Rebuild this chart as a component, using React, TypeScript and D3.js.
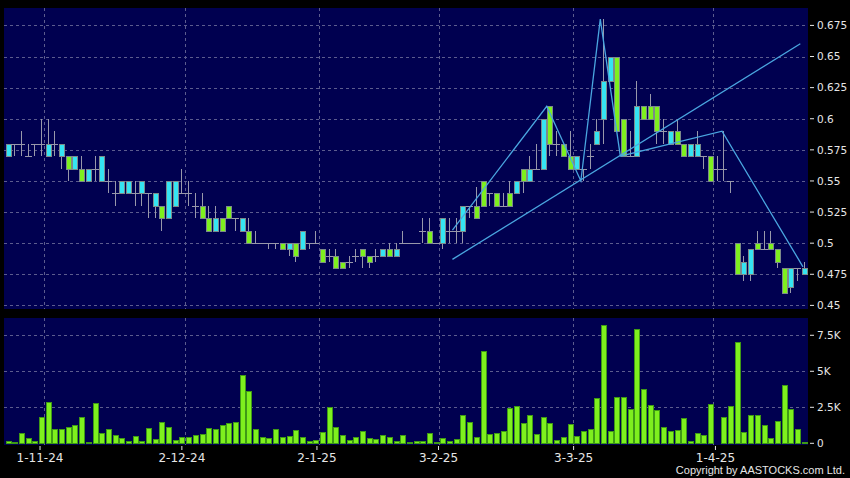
import * as React from "react";
import * as d3 from "d3";

// daily candles, 120 sessions (late Oct 2024 .. mid Apr 2025)
const opens = [
  0.57, 0.58, 0.58, 0.57, 0.58, 0.58, 0.57, 0.58, 0.57, 0.57, 0.56, 0.56, 0.55, 0.56, 0.55, 0.55, 0.54, 0.54, 0.54, 0.54,
  0.54, 0.54, 0.53, 0.53, 0.52, 0.53, 0.54, 0.54, 0.53, 0.53, 0.52, 0.51, 0.52, 0.53, 0.52, 0.51, 0.51, 0.5, 0.5, 0.5,
  0.5, 0.5, 0.495, 0.5, 0.495, 0.5, 0.5, 0.495, 0.49, 0.49, 0.485, 0.485, 0.49, 0.495, 0.49, 0.49, 0.49, 0.495, 0.49, 0.5,
  0.5, 0.5, 0.51, 0.51, 0.5, 0.5, 0.51, 0.51, 0.51, 0.53, 0.53, 0.55, 0.54, 0.54, 0.53, 0.54, 0.54, 0.56, 0.55, 0.56,
  0.56, 0.61, 0.58, 0.58, 0.57, 0.56, 0.56, 0.57, 0.58, 0.6, 0.63, 0.65, 0.6, 0.57, 0.57, 0.61, 0.61, 0.61, 0.59, 0.58,
  0.59, 0.58, 0.57, 0.57, 0.57, 0.57, 0.56, 0.56, 0.55, 0.5, 0.475, 0.475, 0.5, 0.495, 0.5, 0.495, 0.48, 0.465, 0.48, 0.475,
];
const closes = [
  0.58, 0.58, 0.58, 0.57, 0.58, 0.58, 0.58, 0.58, 0.58, 0.56, 0.57, 0.55, 0.56, 0.56, 0.57, 0.55, 0.54, 0.55, 0.55, 0.54,
  0.55, 0.54, 0.54, 0.52, 0.55, 0.55, 0.54, 0.54, 0.53, 0.52, 0.51, 0.52, 0.51, 0.52, 0.52, 0.52, 0.5, 0.5, 0.5, 0.5,
  0.5, 0.495, 0.5, 0.49, 0.51, 0.5, 0.5, 0.485, 0.49, 0.48, 0.48, 0.485, 0.49, 0.49, 0.485, 0.49, 0.495, 0.49, 0.495, 0.5,
  0.5, 0.5, 0.51, 0.5, 0.5, 0.52, 0.51, 0.51, 0.53, 0.53, 0.52, 0.53, 0.54, 0.53, 0.53, 0.53, 0.55, 0.55, 0.56, 0.56,
  0.6, 0.58, 0.58, 0.57, 0.56, 0.57, 0.56, 0.57, 0.59, 0.63, 0.65, 0.59, 0.57, 0.57, 0.61, 0.6, 0.6, 0.59, 0.59, 0.59,
  0.58, 0.57, 0.58, 0.58, 0.57, 0.55, 0.56, 0.56, 0.55, 0.475, 0.485, 0.495, 0.495, 0.495, 0.495, 0.485, 0.46, 0.48, 0.48, 0.48,
];
const highs = [
  0.58, 0.58, 0.59, 0.58, 0.58, 0.6, 0.6, 0.59, 0.58, 0.57, 0.57, 0.57, 0.56, 0.57, 0.57, 0.56, 0.55, 0.55, 0.55, 0.55,
  0.55, 0.54, 0.54, 0.53, 0.55, 0.55, 0.56, 0.55, 0.54, 0.54, 0.53, 0.53, 0.52, 0.53, 0.52, 0.52, 0.52, 0.51, 0.5, 0.5,
  0.5, 0.5, 0.5, 0.5, 0.51, 0.5, 0.51, 0.495, 0.495, 0.495, 0.485, 0.49, 0.495, 0.495, 0.49, 0.495, 0.495, 0.5, 0.5, 0.51,
  0.5, 0.5, 0.52, 0.52, 0.5, 0.52, 0.52, 0.52, 0.53, 0.53, 0.545, 0.55, 0.54, 0.54, 0.54, 0.55, 0.55, 0.56, 0.57, 0.58,
  0.6, 0.61, 0.59, 0.58, 0.59, 0.57, 0.56, 0.58, 0.6, 0.68, 0.65, 0.65, 0.6, 0.59, 0.63, 0.61, 0.62, 0.61, 0.6, 0.59,
  0.6, 0.58, 0.58, 0.59, 0.57, 0.57, 0.57, 0.59, 0.55, 0.5, 0.49, 0.495, 0.51, 0.51, 0.51, 0.495, 0.48, 0.48, 0.48, 0.485,
];
const lows = [
  0.57, 0.57, 0.57, 0.57, 0.57, 0.57, 0.57, 0.57, 0.56, 0.55, 0.56, 0.55, 0.55, 0.55, 0.55, 0.54, 0.53, 0.54, 0.54, 0.53,
  0.53, 0.52, 0.52, 0.51, 0.52, 0.53, 0.54, 0.53, 0.52, 0.52, 0.51, 0.51, 0.51, 0.52, 0.51, 0.51, 0.5, 0.5, 0.5, 0.495,
  0.495, 0.495, 0.49, 0.485, 0.495, 0.495, 0.5, 0.485, 0.485, 0.48, 0.48, 0.48, 0.485, 0.48, 0.48, 0.485, 0.49, 0.49, 0.49, 0.5,
  0.5, 0.5, 0.5, 0.5, 0.5, 0.495, 0.5, 0.5, 0.5, 0.52, 0.52, 0.53, 0.53, 0.53, 0.53, 0.53, 0.54, 0.54, 0.55, 0.56,
  0.56, 0.57, 0.57, 0.57, 0.56, 0.56, 0.55, 0.56, 0.58, 0.58, 0.63, 0.59, 0.57, 0.57, 0.57, 0.6, 0.6, 0.58, 0.58, 0.58,
  0.58, 0.57, 0.57, 0.57, 0.56, 0.55, 0.55, 0.55, 0.54, 0.475, 0.47, 0.47, 0.495, 0.495, 0.495, 0.48, 0.46, 0.46, 0.47, 0.475,
];
const volumes = [
  160, 90, 700, 350, 160, 1850, 2850, 970, 1000, 1110, 1250, 1850, 70, 2780, 720, 970, 580, 370, 185, 530,
  160, 1040, 300, 1480, 1110, 210, 420, 440, 600, 650, 1060, 1020, 1270, 1390, 1500, 4750, 3660, 1020, 440, 370,
  970, 420, 530, 930, 460, 160, 230, 790, 2500, 1110, 560, 230, 420, 830, 350, 320, 560, 420, 140, 580,
  70, 140, 190, 700, 70, 350, 160, 280, 1950, 1460, 440, 6440, 630, 700, 880, 2480, 2570, 1390, 1970, 630,
  1850, 1390, 250, 440, 1340, 530, 880, 1000, 3125, 8200, 880, 3200, 3220, 2410, 7920, 3800, 2690, 2310, 1110, 830,
  930, 1740, 140, 720, 600, 2710, 50, 1850, 2620, 7060, 790, 1970, 1990, 1270, 370, 1550, 4070, 2360, 970, 90,
];

const dateLabels = ["1-11-24", "2-12-24", "2-1-25", "3-2-25", "3-3-25", "1-4-25"];
const dateIndex = [6, 27, 47, 65, 85, 106];

const priceTicks = [0.45, 0.475, 0.5, 0.525, 0.55, 0.575, 0.6, 0.625, 0.65, 0.675];
const volTicks = [0, 2500, 5000, 7500];
const volTickLabels = ["0", "2.5K", "5K", "7.5K"];

// drawn trend lines (index, price)
const zigIndex = [66.5, 80.6, 85.7, 88.6, 91.6, 106.8, 118.9];
const zigPrice = [0.5105, 0.61, 0.55, 0.68, 0.57, 0.59, 0.481];
const trendIndex = [66.5, 118.5];
const trendPrice = [0.487, 0.6603];

const N = opens.length;
const W = 850,
  H = 478;
const left = 4,
  right = 808;

const UP = "#35e4f2";
const DOWN = "#7ef01e";
const NAVY = "#000050";
const GRID = "#5c5c8e";
const LINE = "#4aa6e0";
const TXT = "#e6e6e6";
const FONT = "DejaVu Sans, Verdana, sans-serif";

export default function App() {
  const x = d3.scaleBand<number>().domain(d3.range(N)).range([4.2, 807]);
  const xc = d3.scaleLinear().domain([0, N]).range([4.2, 807]);
  const cx = (i: number) => xc(i + 0.5);
  const xLabel = d3.scaleLinear().domain([0, N]).range([-0.5, 810]);

  const y = d3.scaleLinear().domain([0.4471, 0.689]).range([309, 8]);
  const yv = d3.scaleLinear().domain([0, 8680]).range([443.3, 318.3]);

  const line = d3
    .line<[number, number]>()
    .x(d => cx(d[0]))
    .y(d => y(d[1]));

  const zig: [number, number][] = zigIndex.map((d, i) => [d, zigPrice[i]]);
  const trend: [number, number][] = trendIndex.map((d, i) => [d, trendPrice[i]]);

  const fmt = (v: number) => String(+v.toFixed(3));

  return (
    <svg
      width={W}
      height={H}
      style={{ position: "absolute", left: 0, top: 0, background: "#000" }}
      fontFamily={FONT}
    >
      <rect x={0} y={0} width={W} height={H} fill="#000" />
      {/* price panel */}
      <rect x={left} y={8} width={right - left} height={301} fill={NAVY} />
      {/* volume panel */}
      <rect x={left} y={318} width={right - left} height={127} fill={NAVY} />

      {/* grid */}
      <g stroke={GRID} strokeDasharray="3,3" strokeWidth={1} shapeRendering="crispEdges">
        {priceTicks.map(t => (
          <line key={"pg" + t} x1={left} x2={right} y1={Math.round(y(t)) + 0.5} y2={Math.round(y(t)) + 0.5} />
        ))}
        {volTicks.slice(1).map(t => (
          <line key={"vg" + t} x1={left} x2={right} y1={Math.round(yv(t)) + 0.5} y2={Math.round(yv(t)) + 0.5} />
        ))}
        {dateIndex.map(d => (
          <g key={"dg" + d}>
            <line x1={Math.round(x(d)!) + 0.5} x2={Math.round(x(d)!) + 0.5} y1={8} y2={309} />
            <line x1={Math.round(x(d)!) + 0.5} x2={Math.round(x(d)!) + 0.5} y1={318} y2={445} />
          </g>
        ))}
      </g>

      {/* candles */}
      <g shapeRendering="crispEdges">
        {opens.map((o, i) => {
          const c = closes[i];
          const px = Math.round(cx(i));
          const top = y(Math.max(o, c));
          const bot = y(Math.min(o, c));
          return (
            <g key={"c" + i}>
              <line x1={px + 0.5} x2={px + 0.5} y1={y(highs[i])} y2={y(lows[i])} stroke="#9898aa" />
              {o === c ? (
                <line x1={px - 3} x2={px + 4} y1={Math.round(top) + 0.5} y2={Math.round(top) + 0.5} stroke="#9898aa" />
              ) : (
                <rect
                  x={px - 2}
                  y={Math.round(top) + 0.5}
                  width={5}
                  height={Math.round(bot) - Math.round(top)}
                  fill={c > o ? UP : DOWN}
                  stroke="#7c8a8a"
                />
              )}
            </g>
          );
        })}
      </g>

      {/* drawn lines */}
      <path d={line(zig) || ""} fill="none" stroke={LINE} strokeWidth={1.3} />
      <path d={line(trend) || ""} fill="none" stroke={LINE} strokeWidth={1.3} />

      {/* volume bars */}
      <g shapeRendering="crispEdges">
        {volumes.map((v, i) => {
          const px = Math.round(cx(i));
          return (
            <rect
              key={"v" + i}
              x={px - 2}
              y={Math.round(yv(v)) + 0.5}
              width={5}
              height={Math.max(0, Math.round(yv(0)) - Math.round(yv(v)))}
              fill="#7ef01e"
              stroke="#3f9a16"
            />
          );
        })}
      </g>

      {/* price axis */}
      <g fill={TXT} fontSize={10.5}>
        {priceTicks.map(t => (
          <g key={"pt" + t}>
            <line x1={810} x2={814} y1={y(t)} y2={y(t)} stroke={TXT} />
            <text x={817} y={y(t)} dy="0.36em">
              {fmt(t)}
            </text>
          </g>
        ))}
        {volTicks.map((t, i) => (
          <g key={"vt" + t}>
            <line x1={810} x2={814} y1={yv(t)} y2={yv(t)} stroke={TXT} />
            <text x={817} y={yv(t)} dy="0.36em">
              {volTickLabels[i]}
            </text>
          </g>
        ))}
      </g>

      {/* date axis */}
      <g fill={TXT} fontSize={12}>
        {dateLabels.map((lab, i) => {
          const lx = xLabel(dateIndex[i]);
          return (
            <g key={lab}>
              <line x1={lx} x2={lx} y1={446} y2={450} stroke={TXT} />
              <text x={lx} y={462} textAnchor="middle">
                {lab}
              </text>
            </g>
          );
        })}
      </g>

      <text
        x={845}
        y={474}
        textAnchor="end"
        fill={TXT}
        fontSize={11}
        fontFamily="Liberation Sans, Arial, sans-serif"
      >
        Copyright by AASTOCKS.com Ltd.
      </text>
    </svg>
  );
}
